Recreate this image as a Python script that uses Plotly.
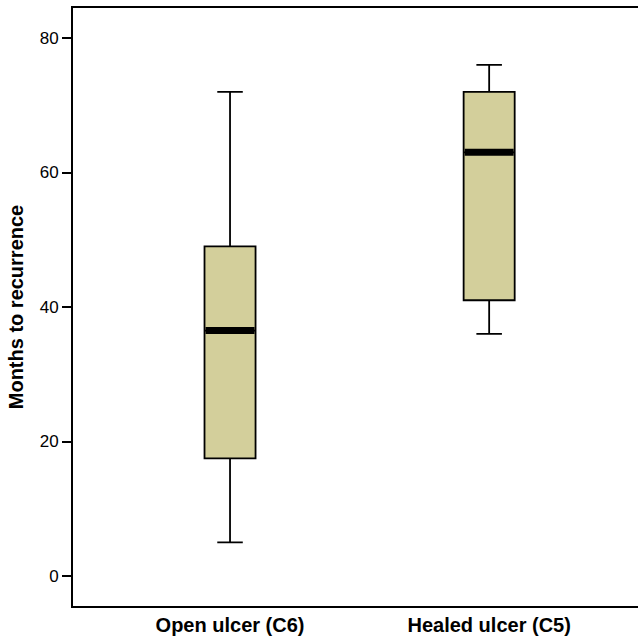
import plotly.graph_objects as go

categories = ["Open ulcer (C6)", "Healed ulcer (C5)"]
positions = [0, 1]
lower_whisker = [5, 36]
q1 = [17.5, 41]
median = [36.5, 63]
q3 = [49, 72]
upper_whisker = [72, 76]
y_ticks = [0, 20, 40, 60, 80]

BOX_W = 0.197
fill = "#D3CF9B"

fig = go.Figure()
for i, cat in enumerate(categories):
    fig.add_trace(go.Box(
        x=[positions[i]], q1=[q1[i]], median=[median[i]], q3=[q3[i]],
        lowerfence=[lower_whisker[i]], upperfence=[upper_whisker[i]],
        width=BOX_W, whiskerwidth=0.5, fillcolor=fill,
        line=dict(color="black", width=1.8), name=cat, showlegend=False,
        hoverinfo="skip",
    ))
    fig.add_trace(go.Scatter(
        x=[positions[i] - BOX_W / 2 + 0.004, positions[i] + BOX_W / 2 - 0.004],
        y=[median[i], median[i]], mode="lines",
        line=dict(color="black", width=7), showlegend=False, hoverinfo="skip",
    ))

fig.update_layout(
    width=648, height=636,
    margin=dict(l=73, r=0, t=8, b=30),
    plot_bgcolor="white", paper_bgcolor="white",
    font=dict(family="Liberation Sans, Arial, sans-serif", color="black"),
    xaxis=dict(
        range=[-0.606, 1.613], tickvals=positions, ticktext=categories,
        showline=True, linecolor="black", linewidth=2, mirror=True,
        ticks="", showgrid=False, zeroline=False, automargin=False,
        tickfont=dict(size=20, family="Liberation Sans, Arial, sans-serif", weight="bold"),
    ),
    yaxis=dict(
        range=[-4.46, 84.46], tickvals=y_ticks,
        showline=True, linecolor="black", linewidth=2,
        ticks="outside", ticklen=9, tickwidth=2, tickcolor="black",
        showgrid=False, zeroline=False, automargin=False,
        tickfont=dict(size=17),
        title=dict(text="Months to recurrence", standoff=11,
                   font=dict(size=20, weight="bold")),
    ),
)

fig.write_html(
    "out.html",
    config={"displayModeBar": False},
    post_script="document.body.style.margin='0';document.body.style.overflow='hidden';",
)
